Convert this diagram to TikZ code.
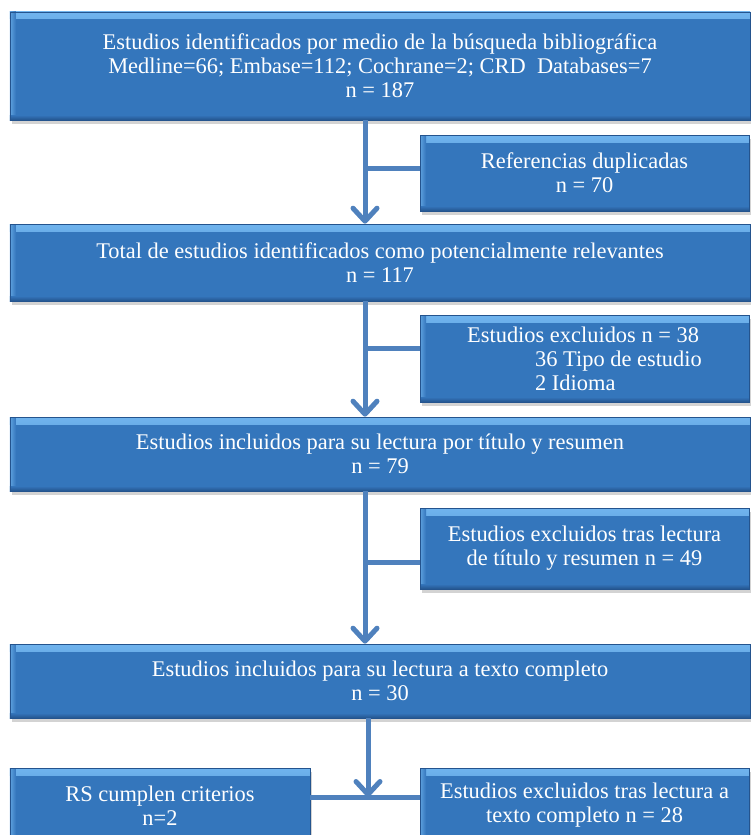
\documentclass[tikz,border=0pt]{standalone}
\usepackage{fontspec}
\setmainfont{Liberation Serif}
\usetikzlibrary{arrows.meta,shadows}
\definecolor{boxlight}{RGB}{112,180,238}
\definecolor{boxmid}{RGB}{52,118,188}
\definecolor{boxdark}{RGB}{36,84,142}
\definecolor{flowblue}{RGB}{79,129,189}
\begin{document}
\begin{tikzpicture}[x=1bp,y=-1bp,
  stage/.style={fill=boxmid,draw=boxdark,line width=0.6bp,text=white,align=center,inner sep=2bp,
    font=\fontsize{22.5}{24}\selectfont,
    drop shadow={shadow xshift=2bp,shadow yshift=-4bp,opacity=0.35},
    path picture={
      \shade[top color=boxlight,bottom color=boxmid] (path picture bounding box.north west) rectangle ([yshift=-7bp]path picture bounding box.north east);
      \shade[left color=boxlight!70!boxmid,right color=boxmid] (path picture bounding box.north west) rectangle ([xshift=6bp]path picture bounding box.south west);
      \shade[top color=boxmid,bottom color=boxdark] ([yshift=5bp]path picture bounding box.south west) rectangle (path picture bounding box.south east);}},
  flow/.style={draw=flowblue,line width=5bp},
  tip/.style={-{Straight Barb[length=13bp,width=24bp,round]}}]
\useasboundingbox (0,0) rectangle (751,835);
\coordinate (spine) at (365,0);
\coordinate (join) at (368,797);
\node[stage,minimum width=740bp,minimum height=108bp] (search) at (380,66) {Estudios identificados por medio de la búsqueda bibliográfica\\Medline=66; Embase=112; Cochrane=2; CRD~ Databases=7\\n = 187};
\node[stage,minimum width=329bp,minimum height=76bp] (dup) at (584.5,173) {Referencias duplicadas\\n = 70};
\node[stage,minimum width=740bp,minimum height=77bp] (total) at (380,262.5) {Total de estudios identificados como potencialmente relevantes\\n = 117};
\node[stage,align=left,minimum width=329bp,minimum height=87bp] (excl1) at (584.5,358.5) {Estudios excluidos n = 38\\\hspace*{68bp}36 Tipo de estudio\\\hspace*{68bp}2 Idioma};
\node[stage,minimum width=740bp,minimum height=74bp] (title) at (380,454) {Estudios incluidos para su lectura por título y resumen\\n = 79};
\node[stage,minimum width=329bp,minimum height=81bp] (excl2) at (584.5,548.5) {Estudios excluidos tras lectura\\de título y resumen n = 49};
\node[stage,minimum width=740bp,minimum height=74bp] (fulltext) at (380,681) {Estudios incluidos para su lectura a texto completo\\n = 30};
\node[stage,minimum width=300bp,minimum height=75bp] (rs) at (160,805.5) {RS cumplen criterios\\n=2};
\node[stage,minimum width=329bp,minimum height=75bp] (excl3) at (584.5,805.5) {Estudios excluidos tras lectura a\\texto completo n = 28};
\draw[flow,tip] (search.south -| spine) -- (total.north -| spine);
\draw[flow] ([yshift=5bp]dup.west) -- ([yshift=5bp]dup.west -| spine);
\draw[flow,tip] (total.south -| spine) -- (title.north -| spine);
\draw[flow] ([yshift=10.5bp]excl1.west) -- ([yshift=10.5bp]excl1.west -| spine);
\draw[flow,tip] (title.south -| spine) -- (fulltext.north -| spine);
\draw[flow] ([yshift=-13.5bp]excl2.west) -- ([yshift=-13.5bp]excl2.west -| spine);
\draw[flow,tip] (fulltext.south -| join) -- (join);
\draw[flow] (rs.east |- join) -- (excl3.west |- join);
\end{tikzpicture}
\end{document}
